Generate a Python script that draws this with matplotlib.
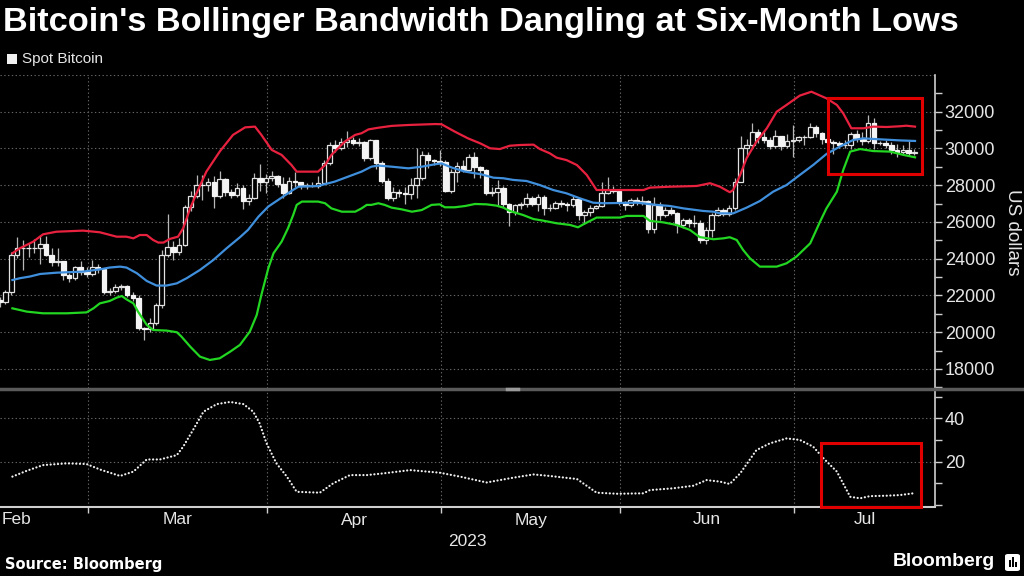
import matplotlib
matplotlib.use("Agg")
import matplotlib.pyplot as plt
import matplotlib.dates as mdates
import matplotlib.transforms as mtransforms
from matplotlib.lines import Line2D
from matplotlib.patches import Rectangle, FancyBboxPatch
import numpy as np
import pandas as pd

# ---------------- data ----------------
title = "Bitcoin's Bollinger Bandwidth Dangling at Six-Month Lows"
legend_label = "Spot Bitcoin"
y_label = "US dollars"
source_text = "Source: Bloomberg"
brand_text = "Bloomberg"
year_label = "2023"
month_labels = ["Feb", "Mar", "Apr", "May", "Jun", "Jul"]
month_starts = ["2023-02-01", "2023-03-01", "2023-04-01", "2023-05-01", "2023-06-01", "2023-07-01"]
price_ticks = [18000, 20000, 22000, 24000, 26000, 28000, 30000, 32000]
bw_ticks = [20, 40]

first_day = "2023-02-13"
opens = [21780, 21660, 22200, 24200, 24560, 24600, 24560, 24600, 24780, 24200, 23800, 23850, 23120, 22940, 23530, 23290,
         23170, 23530, 23440, 22210, 22220, 22480, 22500, 22030, 21880, 20210, 20150, 20480, 21480, 24200, 24650, 24380,
         24750, 26830, 27430, 28010, 28000, 28150, 27430, 28340, 27650, 27470, 27830, 27150, 27300, 28370, 28190,
         28400, 28520, 28050, 27600, 28230, 28150, 27990, 27950, 27970, 28100, 29190, 30190, 30010, 30370, 30460,
         30300, 30370, 29460, 30460, 29190, 28230, 27290, 27650, 27560, 27500, 28010, 28370, 29640, 29370, 29300,
         29280, 27700, 28740, 29030, 28850, 29530, 28970, 28850, 27600, 27650, 27860, 26960, 26560, 26920, 26960,
         27320, 26960, 27380, 26740, 26780, 27010, 26980, 26900, 27250, 26380, 26520, 26780, 26850, 27560, 27740,
         27700, 27100, 26920, 27200, 27090, 27150, 25620, 26920, 26380, 26650, 26470, 25840, 26100, 25930, 25920,
         25020, 25560, 26380, 26650, 26420, 26740, 28200, 30010, 30190, 30920, 30640, 30460, 30150, 30680, 30150,
         30400, 30450, 30610, 30620, 31190, 30820, 30510, 30370, 30280, 30190, 30200, 30770, 30550, 30430, 31370,
         30280, 30300, 30190, 29920, 29830, 29900, 29740]
highs = [21900, 22320, 24350, 25200, 25000, 24880, 25100, 25300, 25250, 24570, 24560, 23900, 23200, 23620, 23860, 23550,
         23930, 23700, 23500, 22400, 22600, 22650, 22550, 22200, 22000, 20300, 20750, 21600, 24500, 26450, 24950, 25150,
         26900, 27700, 28550, 28550, 28400, 28500, 28800, 28400, 27800, 28100, 28000, 27500, 28650, 29170, 28600,
         28800, 28550, 28450, 28450, 28700, 28200, 28100, 28150, 28500, 29400, 30350, 30450, 30550, 30950, 30600,
         30550, 30400, 30500, 30480, 29300, 28400, 27900, 27800, 27900, 28400, 30000, 29850, 29800, 29450, 29900,
         29350, 28900, 29250, 29350, 29700, 29800, 29050, 28900, 27900, 28300, 27950, 27050, 27000, 27100, 27600,
         27400, 27500, 27450, 27000, 27150, 27200, 27100, 27450, 27300, 26650, 26950, 26950, 28200, 28450, 27950,
         27800, 27150, 27300, 27350, 27400, 27200, 27350, 27100, 26800, 26800, 26550, 26200, 26200, 26400, 26100,
         25700, 26500, 26800, 26750, 26950, 28400, 30700, 30500, 31400, 31050, 31000, 30650, 31000, 30700, 30800,
         31270, 30700, 30750, 31400, 31300, 30900, 31500, 30450, 30400, 30450, 30900, 31000, 30900, 31820, 31640,
         30400, 30450, 30350, 30250, 30200, 30400, 29950]
lows = [21350, 21550, 22050, 24050, 23400, 24100, 24300, 23700, 24150, 23600, 23600, 22850, 22750, 22850, 23100, 23000,
        23050, 23250, 22100, 22000, 22150, 22300, 21900, 21700, 20100, 19580, 20000, 20400, 21300, 24100, 23950, 24200,
        24700, 26600, 27300, 27200, 27700, 26750, 27300, 27400, 27300, 27350, 26700, 26900, 27250, 27700, 27600,
        28250, 27900, 27300, 27550, 27900, 27800, 27800, 27880, 27850, 28050, 29100, 29800, 29900, 30100, 30200,
        30150, 29300, 29400, 28900, 28100, 27200, 27150, 27350, 27000, 27250, 27300, 28300, 28950, 29100, 29050,
        27650, 27600, 28150, 28700, 28800, 28400, 28400, 27450, 27400, 26900, 26800, 25800, 26400, 26700, 26800,
        26850, 26600, 26400, 26600, 26700, 26800, 26600, 26800, 26100, 25900, 26350, 26700, 26800, 27500, 27600,
        26900, 26650, 26800, 26950, 26950, 25400, 25400, 26100, 26250, 26400, 25400, 25650, 25700, 25750, 24850,
        24800, 25200, 26300, 26300, 26300, 26650, 28150, 29550, 29950, 30300, 30300, 29950, 30050, 29900, 30050,
        29550, 30350, 30200, 30550, 30650, 30250, 29850, 29700, 30050, 30050, 29950, 30350, 30200, 30300, 29950,
        30200, 30050, 29700, 29550, 29700, 29600, 29650]
closes = [21660, 22200, 24200, 24560, 24600, 24560, 24600, 24780, 24200, 23800, 23850, 23120, 22940, 23530, 23290, 23170,
          23530, 23440, 22210, 22220, 22480, 22500, 22030, 21880, 20210, 20150, 20480, 21480, 24200, 24650, 24380, 24750,
          26830, 27430, 28010, 28000, 28150, 27430, 28340, 27650, 27470, 27830, 27150, 27300, 28370, 28190, 28400,
          28520, 28050, 27600, 28230, 28150, 27990, 27950, 27970, 28100, 29190, 30190, 30010, 30370, 30460, 30300,
          30370, 29460, 30460, 29190, 28230, 27290, 27650, 27560, 27500, 28010, 28370, 29640, 29370, 29300, 29280,
          27700, 28740, 29030, 28850, 29530, 28970, 28850, 27600, 27650, 27860, 26960, 26560, 26920, 26960, 27320,
          26960, 27380, 26740, 26780, 27010, 26980, 26900, 27250, 26380, 26520, 26780, 26850, 27560, 27740, 27700,
          27100, 26920, 27200, 27090, 27150, 25620, 26920, 26380, 26650, 26470, 25840, 26100, 25930, 25920, 25020,
          25560, 26380, 26650, 26420, 26740, 28200, 30010, 30190, 30920, 30640, 30460, 30150, 30680, 30150, 30400,
          30450, 30610, 30620, 31190, 30820, 30510, 30370, 30280, 30190, 30200, 30770, 30550, 30430, 31370, 30280,
          30300, 30190, 29920, 29830, 29900, 29740, 29790]

# Bollinger bands (day = days after 1 Feb 2023)
upper_day = [14.2, 15.5, 17.8, 19.5, 21.8, 26.4, 29.3, 32.2, 33.9, 35.1, 36.2, 37.4, 38.5, 39.4, 40.3, 41.4, 42.8,
             43.7, 44.9, 46.0, 47.7, 50.0, 52.3, 54.4, 56.1, 57.2, 59.0, 60.7, 62.4, 63.3, 67.0, 68.2, 69.3, 71.6,
             73.4, 74.5, 75.7, 77.4, 79.7, 82.6, 87.2, 88.3, 90.6, 92.9, 95.0, 96.7, 98.4, 100.1, 101.9, 104.2,
             105.3, 107.0, 108.2, 109.9, 111.7, 113.4, 115.1, 116.3, 123.2, 124.3, 127.8, 132.4, 134.7, 136.4,
             138.1, 138.7, 139.9, 141.0, 142.7, 144.5, 146.2, 147.9, 150.2, 152.2, 154.8, 156.6, 157.7, 159.1,
             161.2, 162.9, 165.2, 167.5, 168.6, 170.1]
upper_val = [24300, 24570, 24930, 25330, 25470, 25530, 25440, 25200, 25200, 25110, 25290, 25290, 25020, 24880, 24880,
             25080, 25200, 25660, 26740, 27560, 28740, 29830, 30740, 31150, 31190, 30740, 29920, 29650, 29100, 28740,
             28740, 29100, 29650, 30370, 30740, 30830, 31040, 31130, 31230, 31280, 31330, 31320, 30920, 30550, 30280,
             30010, 29970, 30150, 30190, 30210, 29970, 29740, 29500, 29370, 29100, 28560, 27740, 27740, 27740, 27870,
             27920, 27960, 28110, 27920, 27620, 27740, 28560, 29470, 30370, 31100, 32000, 32370, 32880, 33090, 32730,
             32370, 31910, 31100, 31100, 31190, 31170, 31210, 31240, 31190]
mid_day = [14.2, 15.5, 17.2, 19.0, 21.8, 26.4, 29.3, 31.0, 32.8, 33.9, 35.7, 37.4, 39.1, 40.8, 42.6, 44.3, 46.6,
           48.9, 51.2, 53.5, 54.9, 56.7, 58.4, 60.1, 62.4, 63.6, 67.0, 69.9, 72.2, 74.5, 76.2, 77.4, 79.7, 82.6,
           84.9, 87.2, 88.3, 90.1, 92.4, 94.1, 95.0, 97.3, 99.0, 100.7, 103.0, 105.3, 107.6, 109.9, 112.2, 114.5,
           116.3, 122.0, 125.5, 127.8, 130.1, 133.5, 135.3, 136.4, 138.7, 141.0, 143.3, 145.6, 147.9, 150.2, 152.5,
           154.8, 157.1, 159.4, 161.2, 164.0, 167.5, 170.1]
mid_val = [22840, 22940, 23030, 23170, 23240, 23300, 23420, 23520, 23570, 23520, 23210, 22790, 22540, 22540, 22660,
           22940, 23390, 23930, 24570, 25170, 25570, 26290, 26840, 27200, 27690, 27920, 27960, 28200, 28470, 28740,
           29010, 29070, 29010, 28920, 29010, 29140, 29190, 28960, 28740, 28650, 28610, 28410, 28380, 28290, 28230,
           28010, 27740, 27560, 27290, 27050, 27020, 27050, 26930, 26870, 26740, 26600, 26560, 26470, 26470, 26780,
           27140, 27650, 28010, 28560, 29100, 29700, 30100, 30460, 30550, 30500, 30440, 30410]
lower_day = [14.2, 16.7, 19.5, 23.6, 27.0, 28.2, 29.3, 31.0, 32.2, 33.1, 33.9, 35.1, 35.9, 37.4, 38.5, 40.8, 42.6,
             43.4, 44.9, 46.6, 48.3, 50.0, 51.8, 53.5, 55.2, 56.4, 57.2, 58.4, 59.3, 60.7, 61.8, 62.7, 63.3, 64.2,
             67.0, 68.2, 69.3, 71.1, 73.4, 74.5, 75.4, 76.2, 77.4, 78.5, 79.7, 81.4, 83.2, 84.9, 86.6, 88.0, 88.9,
             90.6, 92.4, 94.1, 96.1, 97.8, 99.0, 100.1, 102.4, 104.2, 105.9, 108.2, 110.5, 111.9, 112.8, 115.1,
             119.1, 120.3, 123.2, 124.3, 126.6, 128.9, 131.2, 132.9, 135.3, 137.0, 138.1, 139.3, 140.4, 141.6,
             143.3, 146.2, 147.9, 149.6, 152.0, 153.7, 154.8, 156.6, 157.7, 158.9, 160.6, 162.9, 165.8, 168.1, 170.1]
lower_val = [21300, 21120, 21030, 21030, 21080, 21300, 21570, 21700, 21880, 21970, 21790, 21570, 21120, 20400, 20120,
             20090, 20000, 19760, 19220, 18670, 18490, 18580, 18940, 19310, 20030, 20940, 22030, 23480, 24300, 24930,
             25660, 26380, 26930, 27110, 27110, 27020, 26740, 26560, 26560, 26740, 26930, 26930, 27020, 26930, 26780,
             26690, 26560, 26650, 26930, 26960, 26800, 26800, 26870, 26980, 26960, 26890, 26780, 26600, 26380, 26160,
             26070, 25930, 25840, 25710, 25870, 26240, 26240, 26330, 26330, 26060, 25980, 25840, 25570, 25180, 25060,
             25110, 25170, 25020, 24480, 24020, 23570, 23570, 23750, 24110, 24840, 26020, 26740, 27650, 28830, 29830,
             29970, 29860, 29830, 29650, 29520]
bw_day = [14.2, 16.7, 19.5, 23.6, 27.0, 29.3, 32.8, 35.1, 37.4, 39.7, 42.6, 43.7, 45.4, 47.2, 49.5, 51.8, 54.1, 55.8,
          56.9, 58.1, 59.8, 61.6, 63.3, 67.3, 69.6, 72.5, 75.4, 78.3, 82.9, 88.0, 91.5, 96.1, 100.7, 104.2, 107.0,
          111.7, 115.1, 118.6, 123.2, 124.3, 128.3, 131.8, 134.1, 136.4, 138.1, 139.9, 142.7, 145.0, 147.9, 150.2,
          152.5, 154.3, 156.6, 158.9, 160.6, 162.3, 165.2, 167.5, 169.8]
bw_val = [13.1, 15.8, 18.4, 19.2, 18.9, 16.4, 13.4, 15.4, 21.0, 21.0, 23.0, 26.9, 34.6, 43.0, 46.5, 47.5, 46.5, 43.0,
          37.6, 28.4, 19.2, 13.1, 6.1, 5.7, 10.0, 13.8, 13.8, 14.6, 16.1, 14.9, 13.1, 10.4, 12.6, 14.1, 13.4, 12.0,
          5.7, 5.2, 5.4, 6.9, 7.7, 8.9, 11.5, 10.8, 9.7, 14.6, 25.3, 28.4, 30.7, 30.0, 26.9, 21.5, 15.4, 3.8, 3.1,
          4.1, 4.3, 4.6, 5.4]

# ---------------- style ----------------
plt.rcParams["font.family"] = ["Liberation Sans", "DejaVu Sans"]
BG = "black"
TXT = "#e6e6e6"
GRID = "#666666"
GRID_LS = (0, (1.2, 2.2))
SPINE = "#cfcfcf"
RED = "#e8213f"
BLUE = "#3f8fdc"
GREEN = "#22d622"
BOX = "#e00000"

W, H = 1024, 576
fig = plt.figure(figsize=(W / 100, H / 100), dpi=100, facecolor=BG)


def fx(px):
    return px / W


def fy(py):
    return 1 - py / H


ax = fig.add_axes([0, fy(388), fx(935), (388 - 75) / H], facecolor=BG)
axb = fig.add_axes([0, fy(507), fx(935), (507 - 390) / H], facecolor=BG, sharex=ax)

base = mdates.date2num(pd.Timestamp("2023-02-01"))
close_shift = 19 / 24  # candles stamped at the evening close
dates = pd.date_range(first_day, periods=len(closes), freq="D")
x = mdates.date2num(dates) + close_shift

o = np.array(opens, float)
h = np.array(highs, float)
l = np.array(lows, float)
c = np.array(closes, float)
up = c >= o
bottom = np.minimum(o, c)
height = np.abs(c - o)

# candles
ax.vlines(x, l, h, color="#b8b8b8", lw=0.9, zorder=2)
ax.bar(x[up], height[up], bottom=bottom[up], width=0.8, facecolor=BG, edgecolor="#e2e2e2",
       linewidth=0.9, zorder=3)
ax.bar(x[~up], height[~up], bottom=bottom[~up], width=0.8, facecolor="#f4f4f4", edgecolor="#f4f4f4",
       linewidth=0.9, zorder=3)

# bands
ax.plot(base + np.array(upper_day) + close_shift, upper_val, color=RED, lw=1.6, zorder=4)
ax.plot(base + np.array(mid_day) + close_shift, mid_val, color=BLUE, lw=1.6, zorder=4)
ax.plot(base + np.array(lower_day) + close_shift, lower_val, color=GREEN, lw=1.6, zorder=4)

# bandwidth
axb.plot(base + np.array(bw_day) + close_shift, bw_val, color="#f0f0f0", lw=1.6,
         linestyle=(0, (0.05, 1.6)), dash_capstyle="round", zorder=4)

# limits
ax.set_xlim(base + 12.85, base + 174.34)
ax.set_ylim(16964, 34000)
axb.set_ylim(-0.9, 53)

month_x = [mdates.date2num(pd.Timestamp(m)) for m in month_starts]

for a in (ax, axb):
    for s in ("left", "top"):
        a.spines[s].set_visible(False)
    a.spines["right"].set_color(SPINE)
    a.spines["right"].set_linewidth(1.2)
    a.yaxis.tick_right()
    a.tick_params(axis="y", which="both", direction="out", length=5, width=1, color=SPINE,
                  labelcolor=TXT, labelsize=13, pad=2)
    for mx in month_x[1:]:
        a.axvline(mx, color=GRID, lw=0.8, linestyle=GRID_LS, zorder=1)

ax.spines["bottom"].set_visible(False)
axb.spines["bottom"].set_color(SPINE)
axb.spines["bottom"].set_linewidth(1.5)

ax.set_yticks(price_ticks)
ax.set_yticklabels([str(v) for v in price_ticks])
ax.set_yticks(np.arange(17000, 34000, 1000), minor=True)
for v in price_ticks + [33990]:
    ax.axhline(v, color=GRID, lw=0.8, linestyle=GRID_LS, zorder=1)

axb.set_yticks(bw_ticks)
axb.set_yticklabels([str(v) for v in bw_ticks])
axb.set_yticks([0, 10, 30, 50], minor=True)
for v in bw_ticks:
    axb.axhline(v, color=GRID, lw=0.8, linestyle=GRID_LS, zorder=1)

ax.tick_params(axis="x", which="both", length=0, labelbottom=False)
axb.set_xticks(month_x[1:])
axb.tick_params(axis="x", which="major", direction="out", length=4, width=1, color=SPINE, labelbottom=False)
axb.tick_params(axis="x", which="minor", length=0)

# red highlight boxes
ax.add_patch(Rectangle((base + 155.8, 28610), 16.3, 4120, fill=False, edgecolor=BOX, lw=2.2, zorder=6,
                       clip_on=False))
axb.add_patch(Rectangle((base + 154.6, -0.8), 17.4, 29.5, fill=False, edgecolor=BOX, lw=2.2, zorder=6,
                        clip_on=False))

# month labels
tr = mtransforms.blended_transform_factory(axb.transData, fig.transFigure)
xl, xr = ax.get_xlim()
for i, lab in enumerate(month_labels):
    if i == 0:
        axb.text(xl + 0.35, fy(520), lab, transform=tr, ha="left", va="center", color=TXT, fontsize=12.5)
    else:
        nxt = month_x[i + 1] if i + 1 < len(month_x) else xr
        axb.text((month_x[i] + nxt) / 2, fy(520), lab, transform=tr, ha="center", va="center",
                 color=TXT, fontsize=12.5)
axb.text((xl + xr) / 2, fy(541), year_label, transform=tr, ha="center", va="center", color=TXT, fontsize=12.5)

# separator between panels
fig.add_artist(Line2D([0, 1], [fy(389), fy(389)], color="#5a5a5a", lw=2.5, transform=fig.transFigure))
fig.add_artist(Line2D([fx(507), fx(518)], [fy(389), fy(389)], color="#9a9a9a", lw=2.5,
                      transform=fig.transFigure))

# texts
t_title = fig.text(fx(3), fy(22), title, ha="left", va="center", color="white", fontsize=21,
                   fontweight="bold")
fig.add_artist(Rectangle((fx(7), fy(64)), fx(10), 10 / H, facecolor="#f0f0f0", edgecolor="none",
                         transform=fig.transFigure))
fig.text(fx(22), fy(59), legend_label, ha="left", va="center", color=TXT, fontsize=11)
fig.text(fx(1012), fy(232), y_label, ha="center", va="center", rotation=270, color=TXT, fontsize=13.5)
t_src = fig.text(fx(5), fy(564), source_text, ha="left", va="center", color="white", fontsize=10.5,
                 fontweight="bold", family=["DejaVu Sans"])
t_brand = fig.text(fx(893), fy(562), brand_text, ha="left", va="center", color="white", fontsize=14,
                   fontweight="bold")

# little logo square
fig.add_artist(FancyBboxPatch((fx(1005), fy(571)), fx(15), 17 / H,
                              boxstyle="round,pad=0,rounding_size=0.003", facecolor="white",
                              edgecolor="none", transform=fig.transFigure))
for bx, bh in ((1009, 7), (1012, 10), (1015, 5)):
    fig.add_artist(Rectangle((fx(bx), fy(567)), fx(2), bh / H, facecolor="black", edgecolor="none",
                             transform=fig.transFigure))


def fit_width(t, target):
    fig.canvas.draw()
    r = fig.canvas.get_renderer()
    w = t.get_window_extent(r).width
    t.set_fontsize(t.get_fontsize() * target / w)


fit_width(t_title, 957)
fit_width(t_src, 158)
fit_width(t_brand, 102)

fig.savefig("out.png", dpi=100, facecolor=BG)
